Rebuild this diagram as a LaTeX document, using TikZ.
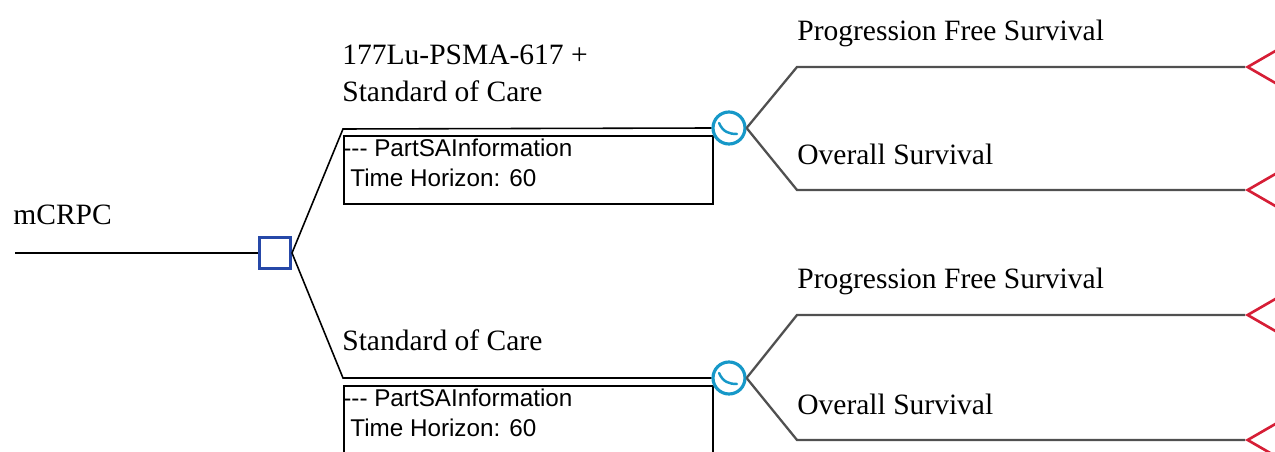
\documentclass[tikz,border=0pt]{standalone}
\usepackage{fontspec}
\setmainfont{Liberation Serif}
\setsansfont{Liberation Sans}
\usetikzlibrary{shapes.geometric,positioning}

\definecolor{decblue}{RGB}{38,72,168}
\definecolor{chteal}{RGB}{22,152,200}
\definecolor{termred}{RGB}{214,30,54}
\definecolor{branchgray}{RGB}{80,80,80}

\begin{document}
\begin{tikzpicture}[
    x=0.02cm, y=-0.02cm,
    decision/.style={rectangle, draw=decblue, line width=1.7pt, fill=white, minimum size=0.62cm, inner sep=0pt},
    chance/.style={circle, draw=chteal, line width=1.8pt, fill=white, minimum size=0.64cm, inner sep=0pt,
        path picture={\draw[chteal, line width=1.4pt, line cap=round] ([shift={(-10,-5)}]path picture bounding box.center) .. controls ([shift={(-6,4)}]path picture bounding box.center) and ([shift={(0,6)}]path picture bounding box.center) .. ([shift={(8,6)}]path picture bounding box.center);}},
    terminal/.style={isosceles triangle, isosceles triangle apex angle=60, shape border rotate=180, draw=termred, line width=1.5pt, minimum size=1.2cm, inner sep=0pt, anchor=apex},
    infobox/.style={rectangle, draw, line width=0.9pt, minimum width=7.38cm, minimum height=1.36cm, anchor=north west, inner sep=0pt},
    branch/.style={draw, line width=0.9pt},
    outcome/.style={draw=branchgray, line width=1.3pt},
    treelabel/.style={anchor=base west, inner sep=0pt, font=\fontsize{16.8}{20}\selectfont},
    info/.style={anchor=base west, inner sep=0pt, font=\sffamily\fontsize{13.8}{16}\selectfont}
]
    \useasboundingbox (0,0) rectangle (1275,452);
    \clip (0,0) rectangle (1275,452);

    % Root and decision
    \coordinate (root) at (15,253);
    \node [decision] (dec) at (275,253) {};
    \node [treelabel] (rootlbl) at (13,225) {mCRPC};
    \path [branch] (root) -- (dec.west);

    % Arm A: 177Lu-PSMA-617 + SoC
    \coordinate (bendA) at (343,129);
    \node [infobox] (boxA) at (343,135) {};
    \node [chance] (chA) at (729,128) {};
    \path [branch] (dec.east) -- (bendA) -- (chA.west);
    \node [treelabel] (armA1) at (342,65) {177Lu-PSMA-617 +};
    \node [treelabel] (armA2) at (342,102) {Standard of Care};
    \node [info] (infoA1) at ([shift={(0,22)}]boxA.north west) {{-}{-}{-} PartSAInformation};
    \node [info] (infoA2) at ([shift={(7,52)}]boxA.north west) {Time Horizon: 60};

    % Arm B: SoC
    \coordinate (bendB) at (343,378);
    \node [infobox] (boxB) at (343,385) {};
    \node [chance] (chB) at (729,378) {};
    \path [branch] (dec.east) -- (bendB) -- (chB.west);
    \node [treelabel] (armB) at (342,351) {Standard of Care};
    \node [info] (infoB1) at ([shift={(0,22)}]boxB.north west) {{-}{-}{-} PartSAInformation};
    \node [info] (infoB2) at ([shift={(7,52)}]boxB.north west) {Time Horizon: 60};

    % Outcomes of arm A
    \coordinate (pfsA) at (797,67);
    \coordinate (osA) at (797,190);
    \node [terminal] (tPfsA) at (1245,67) {};
    \node [terminal] (tOsA) at (1245,190) {};
    \path [outcome] (chA.east) -- (pfsA) -- (tPfsA.apex);
    \path [outcome] (chA.east) -- (osA) -- (tOsA.apex);
    \node [treelabel] (pfsAlbl) at (797,41) {Progression Free Survival};
    \node [treelabel] (osAlbl) at (797,165) {Overall Survival};

    % Outcomes of arm B
    \coordinate (pfsB) at (797,315);
    \coordinate (osB) at (797,440);
    \node [terminal] (tPfsB) at (1245,315) {};
    \node [terminal] (tOsB) at (1245,440) {};
    \path [outcome] (chB.east) -- (pfsB) -- (tPfsB.apex);
    \path [outcome] (chB.east) -- (osB) -- (tOsB.apex);
    \node [treelabel] (pfsBlbl) at (797,289) {Progression Free Survival};
    \node [treelabel] (osBlbl) at (797,415) {Overall Survival};

\end{tikzpicture}
\end{document}
